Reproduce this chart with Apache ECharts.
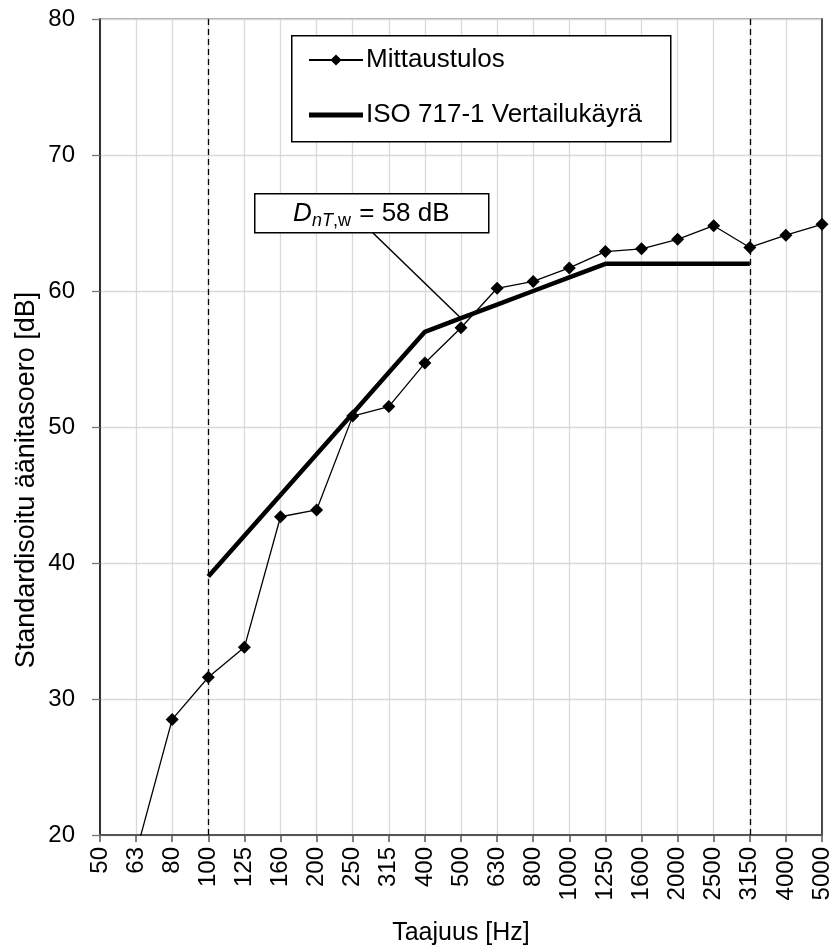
<!DOCTYPE html>
<html>
<head>
<meta charset="utf-8">
<script src="https://cdn.jsdelivr.net/npm/echarts@6/dist/echarts.min.js"></script>
<style>
html,body{margin:0;padding:0;background:#fff;}
#chart{width:835px;height:949px;}
</style>
</head>
<body>
<div id="chart"></div>
<script>
// Data
const categories = ['50','63','80','100','125','160','200','250','315','400','500','630','800','1000','1250','1600','2000','2500','3150','4000','5000'];
const measured = [null,18.7,28.5,31.6,33.8,43.4,43.9,50.8,51.5,54.7,57.3,60.2,60.7,61.7,62.9,63.1,63.8,64.8,63.2,64.1,64.9];
const reference = [null,null,null,39,42,45,48,51,54,57,58,59,60,61,62,62,62,62,62,null,null];
const yTicks = {min:20, max:80, interval:10};
const seriesNames = ['Mittaustulos','ISO 717-1 Vertailukäyrä'];
const rangeMarks = ['100','3150'];
const ratingLabel = {freq:'500', value:58};

const FONT = 'Liberation Sans, Arial, sans-serif';
const chart = echarts.init(document.getElementById('chart'), null, {renderer:'canvas'});

chart.setOption({
  animation:false,
  backgroundColor:'#fff',
  grid:{left:100, right:13, top:19, bottom:114, show:true, borderColor:'#888', borderWidth:1.5, backgroundColor:'transparent'},
  legend:{
    orient:'vertical', left:308, top:45, itemGap:25,
    itemWidth:54, itemHeight:14,
    padding:0,
    data:[
      {name:seriesNames[0]},
      {name:seriesNames[1], icon:'path://M0,0 L54,0 L54,5 L0,5 Z'}
    ],
    textStyle:{fontFamily:FONT, fontSize:26, color:'#000', lineHeight:30, padding:[0,0,0,-2]}
  },
  xAxis:{
    type:'category', data:categories, boundaryGap:false,
    axisLine:{lineStyle:{color:'#555', width:2}},
    axisTick:{show:true, length:7, inside:false, alignWithLabel:true, interval:0, lineStyle:{color:'#555', width:1.5}},
    axisLabel:{interval:0, rotate:90, margin:12, fontFamily:FONT, fontSize:24, color:'#000'},
    splitLine:{show:true, interval:0, lineStyle:{color:'#d9d9d9', width:1.3}}
  },
  yAxis:[{
    type:'value', min:yTicks.min, max:yTicks.max, interval:yTicks.interval,
    axisLine:{show:true, lineStyle:{color:'#000', width:1.5}},
    axisTick:{show:true, length:8, lineStyle:{color:'#777', width:1.3}},
    axisLabel:{margin:25, fontFamily:FONT, fontSize:24, color:'#000'},
    splitLine:{show:true, lineStyle:{color:'#d9d9d9', width:1.3}}
  },{
    type:'value', min:yTicks.min, max:yTicks.max, interval:yTicks.interval, position:'right',
    axisLine:{show:true, lineStyle:{color:'#222', width:1.5}},
    axisTick:{show:false}, axisLabel:{show:false}, splitLine:{show:false}
  }],
  series:[{
    name:seriesNames[0], type:'line', data:measured, connectNulls:false,
    symbol:'diamond', symbolSize:13, showSymbol:true,
    itemStyle:{color:'#000'},
    lineStyle:{color:'#000', width:1.3},
    z:5,
    markLine:{
      silent:true, symbol:['none','none'], label:{show:false},
      lineStyle:{color:'#000', width:1.3, type:[6,4]},
      data:rangeMarks.map(f=>({xAxis:f}))
    }
  },{
    name:seriesNames[1], type:'line', data:reference,
    symbol:'none', showSymbol:false,
    itemStyle:{color:'#000'},
    lineStyle:{color:'#000', width:4.5},
    z:4,
    markLine:{
      silent:true, symbol:['none','none'], label:{show:false},
      lineStyle:{color:'#000', width:1.5, type:'solid'},
      data:[[{x:372, y:232},{coord:[ratingLabel.freq, ratingLabel.value]}]]
    }
  }],
  graphic:[
    {type:'rect', left:291, top:35, z:1, shape:{width:379, height:106}, style:{fill:'#fff', stroke:'#000', lineWidth:1.5}},
    {type:'rect', left:254, top:193, z:10, shape:{width:234, height:39}, style:{fill:'#fff', stroke:'#000', lineWidth:1.5}},
    {type:'text', z:11, x:293, y:214, style:{text:'D', font:'italic 26px '+FONT, fill:'#000', verticalAlign:'middle'}},
    {type:'text', z:11, x:312, y:221, style:{text:'nT', font:'italic 18px '+FONT, fill:'#000', verticalAlign:'middle'}},
    {type:'text', z:11, x:333, y:221, style:{text:',w', font:'18px '+FONT, fill:'#000', verticalAlign:'middle'}},
    {type:'text', z:11, x:352, y:214, style:{text:' = '+ratingLabel.value+' dB', font:'26px '+FONT, fill:'#000', verticalAlign:'middle'}},
    {type:'text', z:11, x:461, y:933, style:{text:'Taajuus [Hz]', font:'25px '+FONT, fill:'#000', align:'center', verticalAlign:'middle'}},
    {type:'text', z:11, x:27, y:480, rotation:Math.PI/2, style:{text:'Standardisoitu äänitasoero [dB]', font:'27px '+FONT, fill:'#000', align:'center', verticalAlign:'middle'}}
  ]
});
</script>
</body>
</html>
